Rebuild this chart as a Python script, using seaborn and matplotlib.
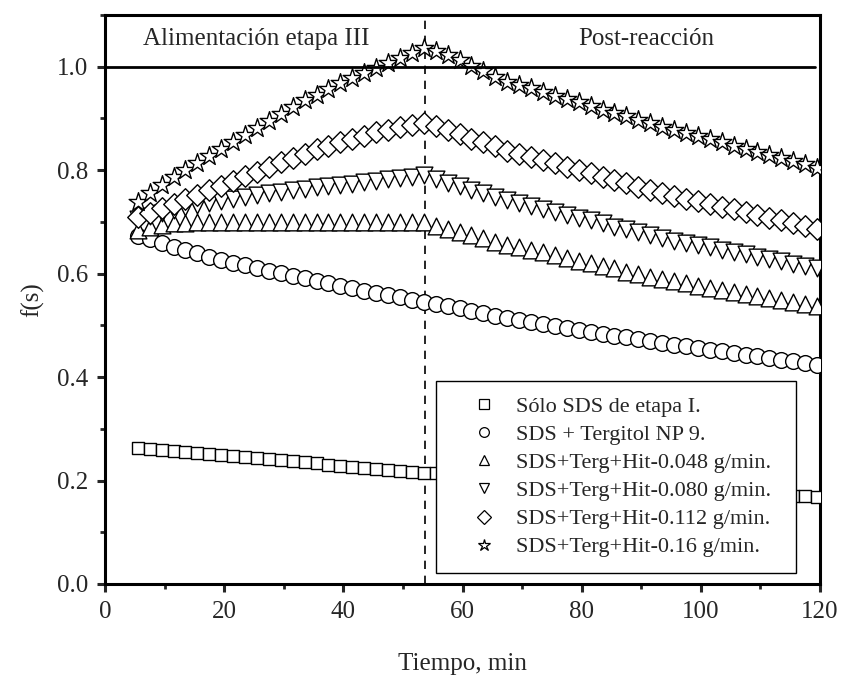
import numpy as np
import pandas as pd
import matplotlib
matplotlib.use("Agg")
import matplotlib.pyplot as plt
from matplotlib.lines import Line2D
from matplotlib.ticker import MultipleLocator
import seaborn as sns

# ---------------- data ----------------
tiempo = [5.5, 7.5, 9.5, 11.5, 13.5, 15.5, 17.5, 19.5, 21.5, 23.5,
          25.5, 27.5, 29.5, 31.5, 33.5, 35.5, 37.5, 39.5, 41.5, 43.5,
          45.5, 47.5, 49.5, 51.5, 53.5, 55.5, 57.5, 59.5, 61.5, 63.5,
          65.5, 67.5, 69.5, 71.5, 73.5, 75.5, 77.5, 79.5, 81.5, 83.5,
          85.5, 87.5, 89.5, 91.5, 93.5, 95.5, 97.5, 99.5, 101.5, 103.5,
          105.5, 107.5, 109.5, 111.5, 113.5, 115.5, 117.5, 119.5]

solo_sds = [0.263, 0.261, 0.259, 0.257, 0.255, 0.253, 0.251, 0.249, 0.247, 0.245,
            0.243, 0.241, 0.239, 0.237, 0.235, 0.233, 0.231, 0.229, 0.227, 0.225,
            0.223, 0.221, 0.219, 0.217, 0.215, 0.214, 0.212, 0.211, 0.209, 0.208,
            0.207, 0.205, 0.204, 0.202, 0.201, 0.199, 0.198, 0.197, 0.195, 0.194,
            0.192, 0.191, 0.190, 0.188, 0.187, 0.185, 0.184, 0.182, 0.181, 0.180,
            0.178, 0.177, 0.175, 0.174, 0.172, 0.171, 0.170, 0.168]

sds_tergitol = [0.673, 0.666, 0.659, 0.652, 0.646, 0.639, 0.633, 0.627, 0.621, 0.616,
                0.611, 0.606, 0.601, 0.596, 0.591, 0.586, 0.581, 0.576, 0.572, 0.567,
                0.562, 0.558, 0.554, 0.550, 0.546, 0.542, 0.537, 0.533, 0.528, 0.524,
                0.519, 0.515, 0.511, 0.507, 0.503, 0.499, 0.495, 0.491, 0.487, 0.484,
                0.480, 0.477, 0.473, 0.470, 0.466, 0.463, 0.460, 0.456, 0.453, 0.450,
                0.446, 0.443, 0.440, 0.437, 0.434, 0.431, 0.428, 0.424]

hit_0048 = [0.684, 0.690, 0.694, 0.697, 0.698, 0.699, 0.700, 0.700, 0.700, 0.700,
            0.700, 0.700, 0.700, 0.700, 0.700, 0.700, 0.700, 0.700, 0.700, 0.700,
            0.700, 0.700, 0.700, 0.700, 0.700, 0.692, 0.686, 0.680, 0.674, 0.668,
            0.662, 0.656, 0.651, 0.646, 0.641, 0.636, 0.630, 0.625, 0.620, 0.615,
            0.610, 0.604, 0.599, 0.594, 0.589, 0.585, 0.581, 0.577, 0.573, 0.569,
            0.565, 0.561, 0.557, 0.553, 0.549, 0.545, 0.541, 0.537]

hit_0080 = [0.705, 0.711, 0.717, 0.723, 0.729, 0.733, 0.737, 0.741, 0.745, 0.749,
            0.752, 0.755, 0.758, 0.761, 0.764, 0.767, 0.769, 0.772, 0.774, 0.777,
            0.779, 0.782, 0.784, 0.787, 0.790, 0.783, 0.776, 0.769, 0.762, 0.755,
            0.748, 0.742, 0.736, 0.731, 0.725, 0.720, 0.714, 0.708, 0.703, 0.697,
            0.691, 0.686, 0.680, 0.675, 0.669, 0.664, 0.660, 0.655, 0.651, 0.646,
            0.642, 0.637, 0.633, 0.628, 0.624, 0.619, 0.615, 0.610]

hit_0112 = [0.710, 0.718, 0.727, 0.735, 0.744, 0.752, 0.761, 0.770, 0.779, 0.788,
            0.797, 0.806, 0.815, 0.824, 0.832, 0.840, 0.847, 0.854, 0.861, 0.867,
            0.873, 0.878, 0.883, 0.887, 0.891, 0.885, 0.877, 0.869, 0.861, 0.854,
            0.846, 0.838, 0.832, 0.825, 0.819, 0.813, 0.806, 0.800, 0.794, 0.787,
            0.781, 0.775, 0.768, 0.762, 0.756, 0.751, 0.745, 0.740, 0.735, 0.729,
            0.724, 0.719, 0.713, 0.708, 0.703, 0.697, 0.692, 0.687]

hit_016 = [0.739, 0.755, 0.771, 0.786, 0.800, 0.813, 0.827, 0.841, 0.855, 0.868,
           0.882, 0.896, 0.909, 0.922, 0.935, 0.946, 0.957, 0.968, 0.978, 0.988,
           0.998, 1.008, 1.017, 1.027, 1.037, 1.031, 1.023, 1.013, 1.002, 0.991,
           0.981, 0.971, 0.964, 0.958, 0.951, 0.944, 0.937, 0.931, 0.924, 0.917,
           0.911, 0.904, 0.897, 0.891, 0.884, 0.878, 0.872, 0.866, 0.860, 0.854,
           0.847, 0.841, 0.835, 0.829, 0.823, 0.817, 0.811, 0.805]

series_labels = ["Sólo SDS de etapa I.",
                 "SDS + Tergitol NP 9.",
                 "SDS+Terg+Hit-0.048 g/min.",
                 "SDS+Terg+Hit-0.080 g/min.",
                 "SDS+Terg+Hit-0.112 g/min.",
                 "SDS+Terg+Hit-0.16 g/min."]
series_values = [solo_sds, sds_tergitol, hit_0048, hit_0080, hit_0112, hit_016]

x_ticks = [0, 20, 40, 60, 80, 100, 120]
y_ticks = [0.0, 0.2, 0.4, 0.6, 0.8, 1.0]
fin_etapa = 53.7

# ---------------- style ----------------
sns.set_style("ticks")
plt.rcParams['font.family'] = ['Liberation Serif', 'DejaVu Serif']

markers = ['s', 'o', '^', 'v', 'D', '*']
sizes = [82, 128, 145, 145, 120, 200]

fig = plt.figure(figsize=(8.43, 6.78), dpi=100)
ax = fig.add_axes([105 / 843, 1 - 584 / 678, 715 / 843, 569 / 678])

for vals, lab, mk, sz in zip(series_values, series_labels, markers, sizes):
    df = pd.DataFrame({"t": tiempo, "f": vals})
    sns.scatterplot(data=df, x="t", y="f", marker=mk, s=sz, color="white",
                    edgecolor="black", linewidth=1.0, ax=ax, legend=False,
                    zorder=3)

ax.axhline(1.0, xmin=0, xmax=0.993, color="black", lw=2.0, zorder=4)
ax.axvline(fin_etapa, color="black", lw=1.2, ls=(0, (5, 4)), zorder=2)

ax.set_xlim(0, 120)
ax.set_ylim(0, 1.1)
ax.set_xticks(x_ticks)
ax.set_yticks(y_ticks)
ax.set_xticklabels([str(v) for v in x_ticks])
ax.set_yticklabels([f"{v:.1f}" for v in y_ticks])
ax.xaxis.set_minor_locator(MultipleLocator(10))
ax.yaxis.set_minor_locator(MultipleLocator(0.1))
ax.tick_params(which="major", direction="out", length=6, width=2.2,
               labelsize=18, top=False, right=False, pad=6)
ax.tick_params(which="minor", direction="out", length=3.5, width=2.0,
               top=False, right=False)
for sp in ax.spines.values():
    sp.set_linewidth(2.2)
    sp.set_color("black")

ax.set_xlabel("Tiempo, min", fontsize=18, labelpad=22)
ax.set_ylabel("f(s)", fontsize=18, labelpad=9)

ax.text(6.4, 1.054, "Alimentación etapa III", fontsize=18, va="center", ha="left")
ax.text(79.4, 1.053, "Post-reacción", fontsize=18, va="center", ha="left")

handles = [Line2D([], [], ls="none", marker=mk, markersize=7 if mk != '*' else 9,
                  markerfacecolor="white", markeredgecolor="black",
                  markeredgewidth=0.9, label=lab)
           for mk, lab in zip(markers, series_labels)]
leg = ax.legend(handles=handles, loc="lower left",
                bbox_to_anchor=((436 - 105) / 715, (584 - 573) / 569,
                                (796 - 436) / 715, (573 - 382) / 569),
                mode="expand", fontsize=16, frameon=True, fancybox=False,
                edgecolor="black", framealpha=1, borderpad=0.7,
                handletextpad=0.0, labelspacing=0.34, handlelength=2.9,
                borderaxespad=0)
leg.get_frame().set_linewidth(1.0)

fig.savefig("out.png", dpi=100)
